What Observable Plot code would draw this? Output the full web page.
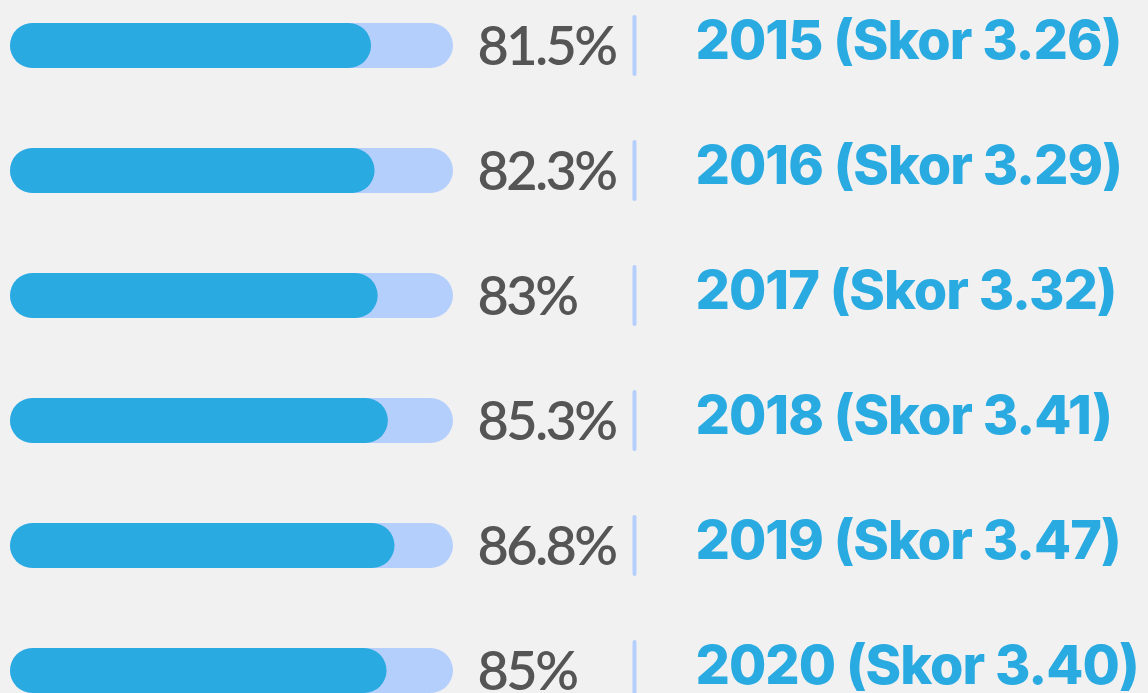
<!DOCTYPE html>
<html>
<head>
<meta charset="utf-8">
<script src="https://cdn.jsdelivr.net/npm/d3@7"></script>
<script src="https://cdn.jsdelivr.net/npm/@observablehq/plot@0.6"></script>
<style>
  html, body { margin: 0; padding: 0; background: #f1f1f1; overflow: hidden; }
  #chart svg { display: block; }
  .pct text { letter-spacing: -2.5px; }
  .lbl text { letter-spacing: -1px; }
</style>
</head>
<body>
<div id="chart"></div>
<script>
const years = ["2015", "2016", "2017", "2018", "2019", "2020"];
const percentages = [81.5, 82.3, 83, 85.3, 86.8, 85];
const percentLabels = ["81.5%", "82.3%", "83%", "85.3%", "86.8%", "85%"];
const scores = ["3.26", "3.29", "3.32", "3.41", "3.47", "3.40"];

const rows = years.map((y, i) => ({
  year: y,
  pct: percentages[i],
  pctLabel: percentLabels[i],
  label: `${y} (Skor ${scores[i]})`
}));

const chart = Plot.plot({
  width: 1148,
  height: 693,
  margin: 0,
  style: { background: "#f1f1f1", overflow: "visible" },
  x: { domain: [0, 100], range: [10, 453], axis: null },
  y: { type: "band", domain: years, range: [-17.5, 732.5], paddingInner: 0.64, paddingOuter: 0.32, axis: null },
  marks: [
    Plot.barX(rows, { y: "year", x1: 0, x2: 100, fill: "#b5cffd", rx: 22.5, ry: 22.5 }),
    Plot.barX(rows, { y: "year", x1: 0, x2: "pct", fill: "#29aae1", rx: 22.5, ry: 22.5 }),
    Plot.text(rows, {
      y: "year", x: 100, dx: 24, dy: 2, text: "pctLabel", textAnchor: "start",
      fill: "#555555", fontSize: 54, fontWeight: 600, fontFamily: "Lato", className: "pct"
    }),
    Plot.tickX(rows, {
      y: "year", x: 100, dx: 181, stroke: "#b5cffd", strokeWidth: 4,
      strokeLinecap: "round", insetTop: -6, insetBottom: -6
    }),
    Plot.text(rows, {
      y: "year", x: 100, dx: 242, dy: -4, text: "label", textAnchor: "start",
      fill: "#29aae1", fontSize: 54, fontWeight: 800, fontFamily: "Inter", className: "lbl"
    })
  ]
});

document.getElementById("chart").append(chart);
</script>
</body>
</html>
